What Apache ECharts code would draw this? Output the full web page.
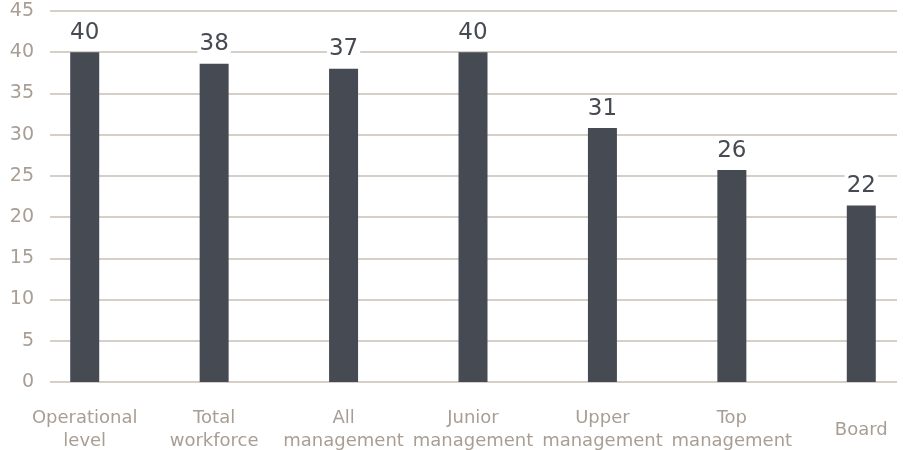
<!DOCTYPE html>
<html>
<head>
<meta charset="utf-8">
<script src="https://cdn.jsdelivr.net/npm/echarts@6/dist/echarts.min.js"></script>
<style>html,body{margin:0;padding:0;background:#fff;overflow:hidden;width:903px;height:450px}#c{width:930px;height:450px}</style>
</head>
<body>
<div id="c"></div>
<script>
var categories = ["Operational\nlevel", "Total\nworkforce", "All\nmanagement", "Junior\nmanagement", "Upper\nmanagement", "Top\nmanagement", "Board"];
var values = [40.0, 38.6, 38.0, 40.0, 30.8, 25.7, 21.4];
var valueLabels = ["40", "38", "37", "40", "31", "26", "22"];
var yTicks = [0, 5, 10, 15, 20, 25, 30, 35, 40, 45];

var font = "DejaVu Sans";
var chart = echarts.init(document.getElementById('c'), null, {renderer: 'canvas'});
chart.setOption({
  animation: false,
  backgroundColor: '#ffffff',
  grid: [
    {left: 50, right: 33, top: 11, bottom: 68, outerBoundsMode: 'none', containLabel: false},
    {left: 20, right: 4, top: 11, bottom: 68, outerBoundsMode: 'none', containLabel: false}
  ],
  xAxis: [
    {gridIndex: 0, type: 'category', data: categories, show: false},
    {gridIndex: 1, type: 'category', data: categories,
     axisLine: {show: false}, axisTick: {show: false},
     axisLabel: {interval: 0, color: '#a89e94', fontFamily: font, fontSize: 18, lineHeight: 23,
                 verticalAlign: 'middle', margin: 48}}
  ],
  yAxis: [
    {gridIndex: 0, type: 'value', min: yTicks[0], max: yTicks[yTicks.length - 1], interval: 5,
     axisLine: {show: false}, axisTick: {show: false},
     splitLine: {lineStyle: {color: '#c8bfb5', width: 1.5}},
     axisLabel: {color: '#a89e94', fontFamily: font, fontSize: 19, margin: 16, padding: [8, 0, 0, 0]}},
    {gridIndex: 1, type: 'value', min: yTicks[0], max: yTicks[yTicks.length - 1], interval: 5, show: false,
     splitLine: {show: false}}
  ],
  series: [{
    type: 'bar',
    xAxisIndex: 1, yAxisIndex: 1,
    data: values,
    barWidth: 29,
    itemStyle: {color: '#464a52'},
    label: {
      show: true, position: 'top', distance: 8,
      color: '#464a52', fontFamily: font, fontSize: 23,
      backgroundColor: '#ffffff', padding: [0, 2, 0, 2],
      formatter: function (p) { return valueLabels[p.dataIndex]; }
    }
  }]
});
</script>
</body>
</html>
